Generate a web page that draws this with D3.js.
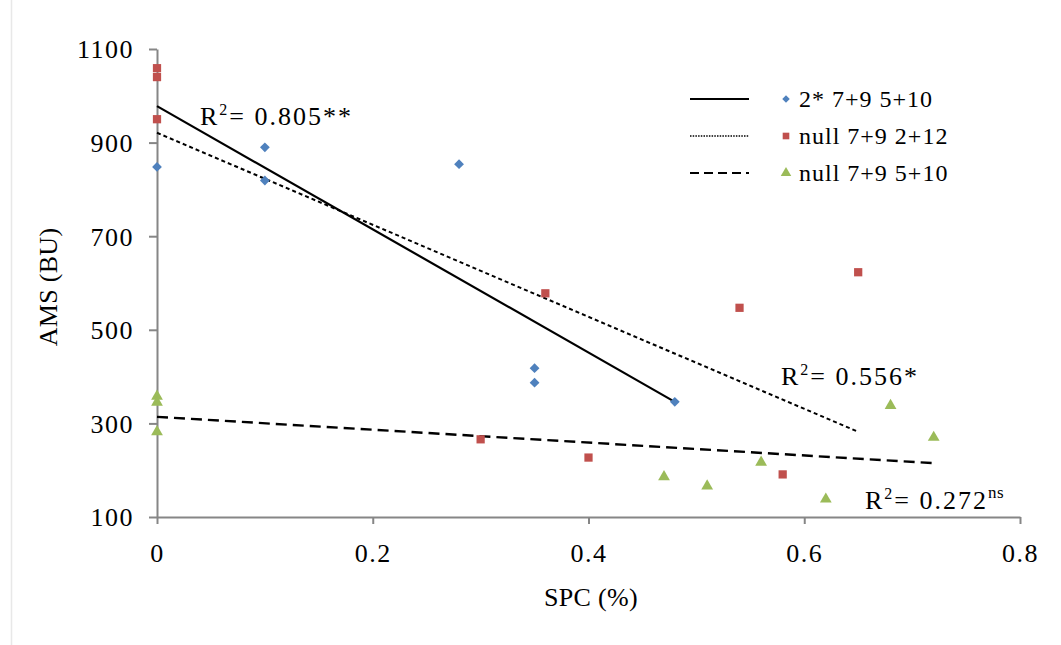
<!DOCTYPE html>
<html>
<head>
<meta charset="utf-8">
<script src="https://cdn.jsdelivr.net/npm/d3@7"></script>
<style>
  body { margin: 0; background: #fff; }
  text { font-family: "Liberation Serif", "Times New Roman", Tinos, serif; fill: #000; }
</style>
</head>
<body>
<script>
// Series values
var blueX = [0, 0.1, 0.1, 0.28, 0.35, 0.35, 0.48];
var blueY = [848, 890, 819, 854, 418, 387, 346];

var redX = [0, 0, 0, 0.36, 0.54, 0.65, 0.3, 0.4, 0.58];
var redY = [1059, 1040, 950, 578, 547, 623, 266, 227, 191];

var greenX = [0, 0, 0, 0.47, 0.51, 0.56, 0.62, 0.68, 0.72];
var greenY = [358, 345, 282, 186, 166, 217, 138, 338, 270];

// Trend lines: [x start, x end] and [y start, y end]
var blueFitX = [0, 0.48], blueFitY = [978, 346];
var redFitX = [0, 0.65], redFitY = [921, 282];
var greenFitX = [0, 0.72], greenFitY = [314, 215];

var legendNames = ["2* 7+9 5+10", "null 7+9 2+12", "null 7+9 5+10"];
var xTicks = [0, 0.2, 0.4, 0.6, 0.8];
var yTicks = [100, 300, 500, 700, 900, 1100];

// Build series table from the arrays above
var series = [
  { name: legendNames[0], xs: blueX, ys: blueY, fx: blueFitX, fy: blueFitY,
    color: "#4f81bd", shape: "diamond", dash: null, width: 2.2 },
  { name: legendNames[1], xs: redX, ys: redY, fx: redFitX, fy: redFitY,
    color: "#c0504d", shape: "square", dash: "4,3", width: 2 },
  { name: legendNames[2], xs: greenX, ys: greenY, fx: greenFitX, fy: greenFitY,
    color: "#9bbb59", shape: "triangle", dash: "11,6", width: 2.4 }
];

var W = 1061, H = 645;

var svg = d3.select("body")
    .append("svg")
    .attr("width", W)
    .attr("height", H)
    .attr("font-family", "Liberation Serif");

// faint outer frame line on the left
svg.append("line")
    .attr("x1", 11.5).attr("x2", 11.5)
    .attr("y1", 0).attr("y2", H)
    .attr("stroke", "#e8e8e8")
    .attr("stroke-width", 1.5);

// Scales
var x = d3.scaleLinear().domain([0, 0.8]).range([157, 1020]);
var y = d3.scaleLinear().domain([100, 1100]).range([517, 49]);

// Axes
var xAxis = d3.axisBottom(x).tickValues(xTicks).tickSize(7).tickSizeOuter(0)
    .tickFormat(d => d === 0 ? "0" : d3.format(".1f")(d));
var yAxis = d3.axisLeft(y).tickValues(yTicks).tickSize(8).tickSizeOuter(0)
    .tickFormat(d3.format("d"));

var gx = svg.append("g")
    .attr("transform", "translate(0," + y(100) + ")")
    .call(xAxis);
var gy = svg.append("g")
    .attr("transform", "translate(" + x(0) + ",0)")
    .call(yAxis);

[gx, gy].forEach(function (g) {
  g.attr("font-family", null);
  g.select(".domain").attr("stroke", "#868686").attr("stroke-width", 2);
  g.selectAll(".tick line").attr("stroke", "#868686").attr("stroke-width", 2);
  g.selectAll(".tick text")
      .attr("fill", "#000")
      .style("font-size", "26px")
      .style("letter-spacing", "1.5px");
});
gx.selectAll(".tick text").attr("dy", null).attr("y", 45);
gy.selectAll(".tick text").attr("x", -23).attr("dy", "0.34em");

// Axis titles
svg.append("text")
    .attr("x", 591)
    .attr("y", 606)
    .style("text-anchor", "middle")
    .style("font-size", "26px")
    .style("letter-spacing", "0.3px")
    .text("SPC (%)");

svg.append("text")
    .attr("transform", "translate(57,287) rotate(-90)")
    .style("text-anchor", "middle")
    .style("font-size", "26px")
    .style("letter-spacing", "0.3px")
    .text("AMS (BU)");

// Marker shape generator
function markerPath(shape, big) {
  if (shape === "diamond") return d3.symbol(d3.symbolSquare, big ? 48 : 28)();
  if (shape === "square") return d3.symbol(d3.symbolSquare, big ? 68 : 44)();
  return d3.symbol(d3.symbolTriangle, big ? 60 : 48)();
}

// Trend lines
var line = d3.line()
    .x(d => x(d[0]))
    .y(d => y(d[1]));

series.forEach(function (s) {
  var pts = s.fx.map((v, i) => [v, s.fy[i]]);
  svg.append("path")
      .datum(pts)
      .attr("fill", "none")
      .attr("stroke", "#000")
      .attr("stroke-width", s.width)
      .attr("stroke-dasharray", s.dash)
      .attr("d", line);
});

// Points
series.forEach(function (s) {
  var pts = s.xs.map((v, i) => [v, s.ys[i]]);
  svg.append("g")
      .selectAll("path")
      .data(pts)
      .join("path")
      .attr("d", markerPath(s.shape, true))
      .attr("fill", s.color)
      .attr("transform", d => "translate(" + x(d[0]) + "," + y(d[1]) + ")" +
          (s.shape === "diamond" ? " rotate(45)" : ""));
});

// R squared labels
var r2 = [
  { x: 200, y: 125, val: "0.805**", sup: null },
  { x: 781, y: 385, val: "0.556*", sup: null },
  { x: 865, y: 509, val: "0.272", sup: "ns" }
];
r2.forEach(function (r) {
  var t = svg.append("text")
      .attr("x", r.x)
      .attr("y", r.y)
      .style("font-size", "26px")
      .style("letter-spacing", "2px");
  t.append("tspan").text("R");
  t.append("tspan").style("font-size", "16px").attr("dy", -10).text("2");
  t.append("tspan").attr("dy", 10).text("= " + r.val);
  if (r.sup) {
    t.append("tspan").style("font-size", "17px").style("letter-spacing", "0.5px")
        .attr("dy", -11).text(r.sup);
  }
});

// Legend
var legendY = [99, 136, 173];
var legend = svg.append("g");
series.forEach(function (s, i) {
  var ly = legendY[i];
  legend.append("line")
      .attr("x1", 690).attr("x2", 749)
      .attr("y1", ly).attr("y2", ly)
      .attr("stroke", "#000")
      .attr("stroke-width", i === 1 ? 1.5 : 2)
      .attr("stroke-dasharray", i === 0 ? null : (i === 1 ? "1.5,1.2" : "9,5"));
  legend.append("path")
      .attr("d", markerPath(s.shape, false))
      .attr("fill", s.color)
      .attr("transform", "translate(786," + ly + ")" + (s.shape === "diamond" ? " rotate(45)" : ""));
  legend.append("text")
      .attr("x", 799)
      .attr("y", ly + 8)
      .style("font-size", "24px")
      .style("letter-spacing", "1px")
      .text(s.name);
});
</script>
</body>
</html>
